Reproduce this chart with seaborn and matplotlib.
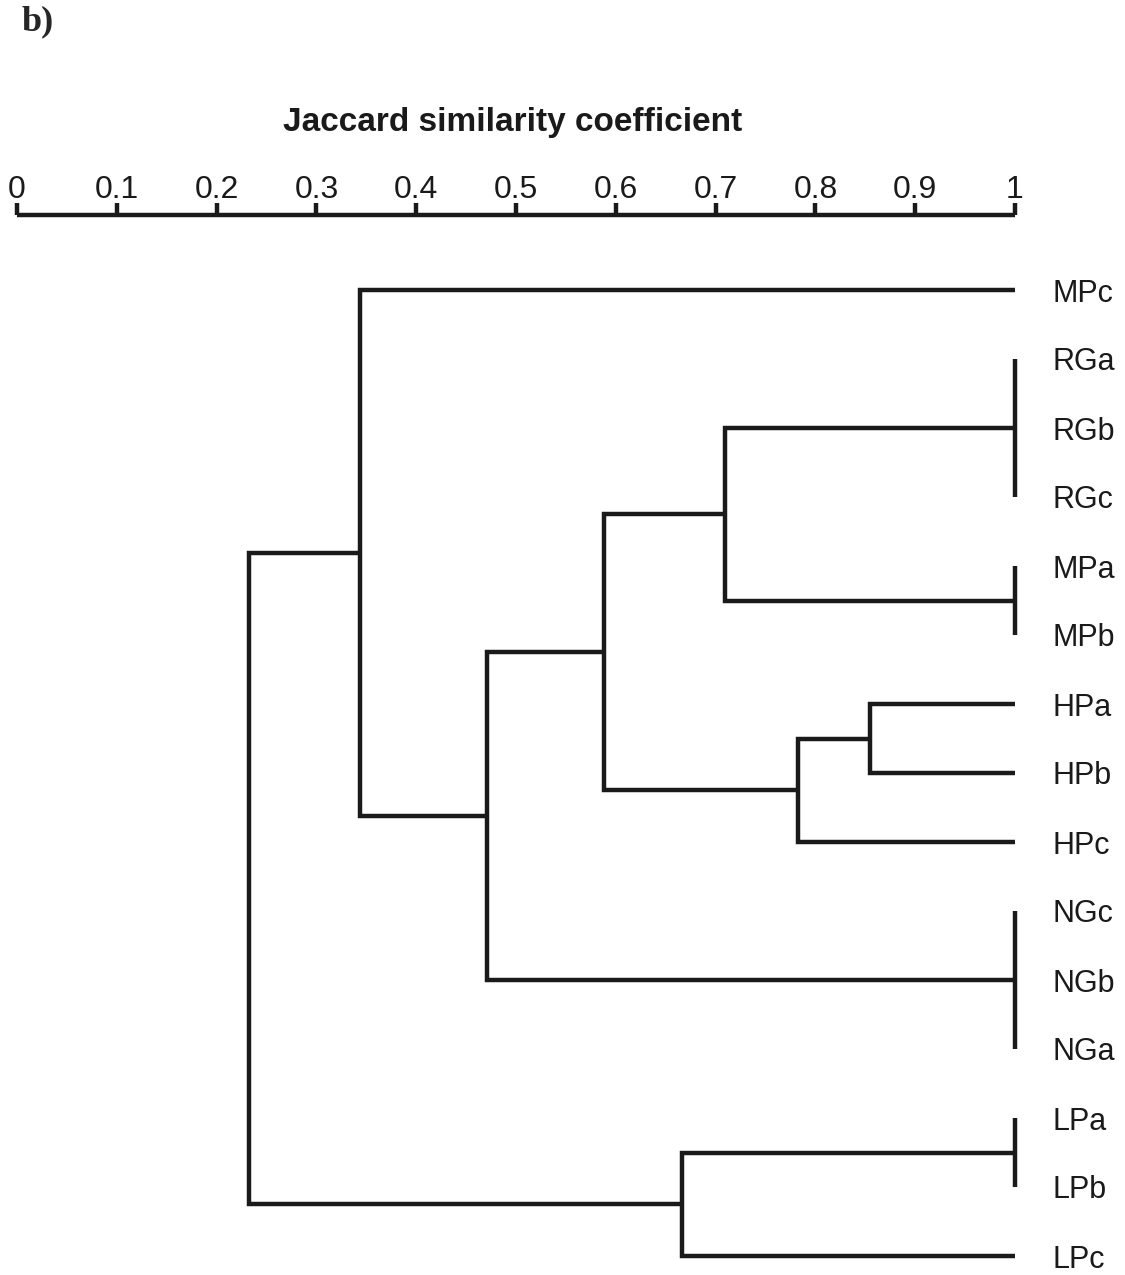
import pandas as pd
import matplotlib.pyplot as plt
import seaborn as sns

# leaves, top to bottom
leaves = ['MPc', 'RGa', 'RGb', 'RGc', 'MPa', 'MPb', 'HPa', 'HPb', 'HPc',
          'NGc', 'NGb', 'NGa', 'LPa', 'LPb', 'LPc']

# merges (cluster name, members, Jaccard similarity at the join)
merge_names = ['RG', 'MP', 'HPab', 'HP', 'RGMP', 'RGMPHP', 'NG', 'core',
               'top', 'LPab', 'LP', 'all']
merge_members = [['RGa', 'RGb', 'RGc'], ['MPa', 'MPb'], ['HPa', 'HPb'],
                 ['HPab', 'HPc'], ['RG', 'MP'], ['RGMP', 'HP'],
                 ['NGc', 'NGb', 'NGa'], ['RGMPHP', 'NG'], ['MPc', 'core'],
                 ['LPa', 'LPb'], ['LPab', 'LPc'], ['top', 'LP']]
merge_sim = [1.0, 1.0, 0.855, 0.783, 0.709, 0.588, 1.0, 0.471, 0.344,
             1.0, 0.666, 0.232]

ticks = [0, 0.1, 0.2, 0.3, 0.4, 0.5, 0.6, 0.7, 0.8, 0.9, 1]
tick_labels = ['0', '0.1', '0.2', '0.3', '0.4', '0.5', '0.6', '0.7', '0.8', '0.9', '1']

# node positions
pos_y = {name: i for i, name in enumerate(leaves)}
pos_x = {name: 1.0 for name in leaves}
rows = []
seg = 0
for name, members, sim in zip(merge_names, merge_members, merge_sim):
    ys = [pos_y[m] for m in members]
    first, last = members[0], members[-1]
    # U shaped path from first to last child
    for x, y in [(pos_x[first], pos_y[first]), (sim, pos_y[first]),
                 (sim, pos_y[last]), (pos_x[last], pos_y[last])]:
        rows.append({'seg': seg, 'x': x, 'y': y})
    seg += 1
    for m in members[1:-1]:
        rows.append({'seg': seg, 'x': pos_x[m], 'y': pos_y[m]})
        rows.append({'seg': seg, 'x': sim, 'y': pos_y[m]})
        seg += 1
    pos_y[name] = sum(ys) / len(ys)
    pos_x[name] = sim

df = pd.DataFrame(rows)

sns.set_style('white')
plt.rcParams['font.family'] = ['Liberation Sans', 'DejaVu Sans']

fig = plt.figure(figsize=(11.25, 12.75), dpi=100)
ax = fig.add_axes([17 / 1125, 0, (1015 - 17) / 1125, 1 - 215 / 1275])

sns.lineplot(data=df, x='x', y='y', units='seg', estimator=None, sort=False,
             color='#1a1a1a', linewidth=3.2, ax=ax, legend=False)
for line in ax.lines:
    line.set_solid_joinstyle('miter')
    line.set_solid_capstyle('butt')
    line.set_clip_on(False)

# map leaf 0 -> 290 px and leaf 14 -> 1256 px
ax_h = 1275 - 215
rng = (len(leaves) - 1) * ax_h / (1256 - 290)
y_top = -(290 - 215) * rng / ax_h
ax.set_ylim(y_top + rng, y_top)
ax.set_xlim(0, 1)

for s in ['left', 'right', 'bottom']:
    ax.spines[s].set_visible(False)
ax.spines['top'].set_linewidth(3.2)
ax.spines['top'].set_color('#1a1a1a')
ax.spines['top'].set_capstyle('butt')

ax.xaxis.tick_top()
ax.set_xticks(ticks, tick_labels)
ax.tick_params(axis='x', direction='out', length=9, width=3.2, pad=-2,
               labelsize=23, colors='#1a1a1a')

ax.yaxis.tick_right()
ax.set_yticks(range(len(leaves)), leaves)
ax.tick_params(axis='y', length=0, pad=27, labelsize=22, colors='#1a1a1a')
ax.set_xlabel('')
ax.set_ylabel('')

fig.text(513 / 1125, 1 - 122 / 1275, 'Jaccard similarity coefficient',
         ha='center', va='center', fontsize=24, fontweight='bold', color='#1a1a1a')
fig.text(22 / 1125, 1 - 22 / 1275, 'b)', ha='left', va='center', fontsize=26,
         fontweight='bold', family='Liberation Serif')

fig.savefig('out.png', dpi=100)
